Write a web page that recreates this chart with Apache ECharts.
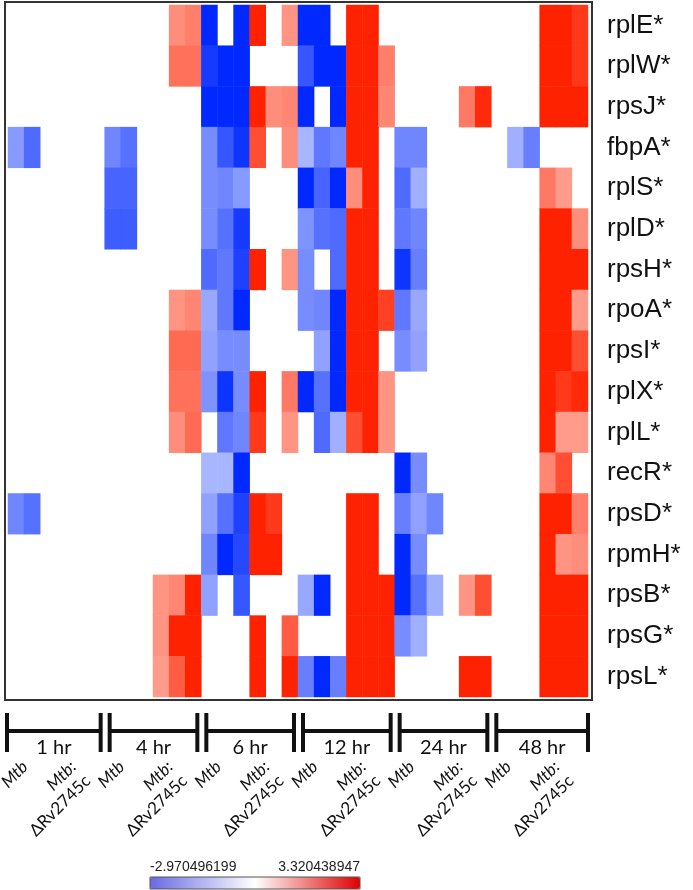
<!DOCTYPE html>
<html>
<head>
<meta charset="utf-8">
<script src="https://cdn.jsdelivr.net/npm/echarts@6/dist/echarts.min.js"></script>
<style>
  html, body { margin: 0; padding: 0; background: #fff; }
  #chart { width: 693px; height: 890px; }
</style>
</head>
<body>
<div id="chart"></div>
<script>
// blank cell (not significant)
var _ = null

var genes = ['rplE*', 'rplW*', 'rpsJ*', 'fbpA*', 'rplS*', 'rplD*', 'rpsH*', 'rpoA*', 'rpsI*',
  'rplX*', 'rplL*', 'recR*', 'rpsD*', 'rpmH*', 'rpsB*', 'rpsG*', 'rpsL*']
var timepoints = ['1 hr', '4 hr', '6 hr', '12 hr', '24 hr', '48 hr']
var strains = ['Mtb', 'Mtb:ΔRv2745c']
var replicates = 3
var scaleMin = -2.970496199
var scaleMax = 3.320438947

// one row per gene, 6 columns per time point (3 x Mtb, 3 x Mtb:ΔRv2745c)
var rplE = [_, _, _, _, _, _, _, _, _, _, 1.8, 2.0, -2.97, _, -2.97, 3.32, _, 1.7, -2.97, -2.97, _, 3.32, 3.32, _, _, _, _, _, _, _, _, _, _, 3.32, 3.32, 3.0]
var rplW = [_, _, _, _, _, _, _, _, _, _, 2.2, 2.2, -2.7, -2.97, -2.97, _, _, _, -2.3, -2.97, -2.97, 3.32, 3.32, 2.0, _, _, _, _, _, _, _, _, _, 3.32, 3.32, 3.0]
var rpsJ = [_, _, _, _, _, _, _, _, _, _, _, _, -2.97, -2.97, -2.97, 3.32, 1.8, 1.9, -2.97, _, -2.97, 3.32, 3.32, 1.9, _, _, _, _, 2.1, 3.2, _, _, _, 3.32, 3.32, 3.32]
var fbpA = [-1.3, -2.0, _, _, _, _, -1.6, -1.9, _, _, _, _, -1.5, -2.3, -2.8, 2.7, _, 1.8, -0.9, -1.8, -1.6, 3.32, 3.32, _, -1.6, -1.6, _, _, _, _, _, -1.0, -1.7, _, _, _]
var rplS = [_, _, _, _, _, _, -2.1, -2.1, _, _, _, _, -1.5, -1.6, -1.3, _, _, _, -2.97, -2.1, -2.97, 1.8, 3.32, _, -2.0, -1.0, _, _, _, _, _, _, _, 2.1, 1.6, _]
var rplD = [_, _, _, _, _, _, -2.2, -2.2, _, _, _, _, -1.5, -1.9, -2.7, _, _, _, -1.4, -1.9, -2.0, 3.32, 3.32, _, -1.8, -1.6, _, _, _, _, _, _, _, 3.32, 3.32, 1.8]
var rpsH = [_, _, _, _, _, _, _, _, _, _, _, _, -2.0, -1.8, -2.6, 3.32, _, 1.7, -1.5, _, -2.0, 3.32, 3.32, _, -2.8, -1.7, _, _, _, _, _, _, _, 3.32, 3.32, 3.32]
var rpoA = [_, _, _, _, _, _, _, _, _, _, 1.7, 1.9, -1.1, -1.8, -2.97, _, _, _, -1.5, -1.6, -2.97, 3.32, 3.32, 2.9, -1.8, -1.1, _, _, _, _, _, _, _, 3.32, 3.32, 1.6]
var rpsI = [_, _, _, _, _, _, _, _, _, _, 2.3, 2.3, -1.2, -1.5, -1.5, _, _, _, _, -1.2, -2.97, 3.32, 3.32, _, -1.5, -1.2, _, _, _, _, _, _, _, 3.32, 3.32, 2.7]
var rplX = [_, _, _, _, _, _, _, _, _, _, 2.2, 2.2, -1.4, -2.8, -1.5, 3.32, _, 2.1, -2.97, -1.9, -2.97, 3.32, 3.32, 1.7, _, _, _, _, _, _, _, _, _, 3.32, 3.0, 3.2]
var rplL = [_, _, _, _, _, _, _, _, _, _, 1.8, 2.3, _, -1.8, -1.6, 3.0, _, 1.7, _, -2.0, -1.0, 2.7, 3.32, 1.7, _, _, _, _, _, _, _, _, _, 3.32, 1.6, 1.6]
var recR = [_, _, _, _, _, _, _, _, _, _, _, _, -0.9, -0.9, -2.97, _, _, _, _, _, _, _, _, _, -2.97, -1.5, _, _, _, _, _, _, _, 1.9, 2.7, _]
var rpsD = [-1.6, -1.9, _, _, _, _, _, _, _, _, _, _, -1.2, -1.9, -2.6, 3.32, 3.0, _, _, _, _, 3.32, 3.32, _, -1.7, -1.2, -1.6, _, _, _, _, _, _, 3.32, 3.32, 2.0]
var rpmH = [_, _, _, _, _, _, _, _, _, _, _, _, -1.6, -2.97, -2.5, 3.32, 3.32, _, _, _, _, 3.32, 3.32, _, -2.97, -1.5, _, _, _, _, _, _, _, 3.32, 1.7, 1.8]
var rpsB = [_, _, _, _, _, _, _, _, _, 1.7, 1.9, 3.32, -1.2, _, -2.3, _, _, _, -1.1, -2.97, _, 3.32, 3.32, 3.32, -2.97, -1.9, -1.0, _, 1.7, 2.7, _, _, _, 3.32, 3.32, 3.32]
var rpsG = [_, _, _, _, _, _, _, _, _, 1.7, 3.32, 3.32, _, _, _, 3.32, _, 2.5, _, _, _, 3.32, 3.32, 3.32, -1.5, -1.0, _, _, _, _, _, _, _, 3.32, 3.32, 3.32]
var rpsL = [_, _, _, _, _, _, _, _, _, 1.6, 2.5, 3.32, _, _, _, 3.32, _, 3.32, -1.7, -2.97, -1.7, 3.32, 3.32, 3.32, _, _, _, _, 3.32, 3.32, _, _, _, 3.32, 3.32, 3.32]

var rows = [rplE, rplW, rpsJ, fbpA, rplS, rplD, rpsH, rpoA, rpsI, rplX, rplL, recR, rpsD, rpmH, rpsB, rpsG, rpsL]

var columns = []
timepoints.forEach(function (t) {
  strains.forEach(function (s) {
    for (var k = 1; k <= replicates; k++) columns.push(t + ' ' + s + ' ' + k)
  })
})

var cells = []
rows.forEach(function (row, r) {
  row.forEach(function (v, c) {
    if (v !== null) cells.push([c, r, v])
  })
})

var perGroup = strains.length * replicates

// one bottom axis per strain, each labelling the middle replicate of that strain
var strainLabels = ['{i|Mtb}\n{n| }', '{i|Mtb:}\n{n|ΔRv2745c}']
var labelRich = {
  i: { fontFamily: 'Lato', fontStyle: 'italic', fontSize: 17, lineHeight: 20, color: '#111' },
  n: { fontFamily: 'Lato', fontSize: 17, lineHeight: 20, color: '#111' }
}
var xAxes = strains.map(function (s, k) {
  return {
    type: 'category',
    data: columns,
    position: 'bottom',
    offset: 0,
    axisLine: { show: false },
    axisTick: { show: false },
    splitLine: { show: false },
    axisLabel: {
      interval: function (i) {
        return i % perGroup === k * replicates + 1
      },
      rotate: 45,
      margin: 74,
      formatter: function () {
        return strainLabels[k]
      },
      rich: labelRich
    }
  }
})

var myChart = echarts.init(document.getElementById('chart'))

var option = {
  backgroundColor: '#fff',
  animation: false,
  grid: {
    left: 8,
    top: 5,
    width: 580,
    height: 692,
    outerBoundsMode: 'none'
  },
  xAxis: xAxes,
  yAxis: {
    type: 'category',
    data: genes,
    inverse: true,
    position: 'right',
    axisLine: { show: false },
    axisTick: { show: false },
    splitLine: { show: false },
    axisLabel: {
      margin: 19,
      fontSize: 26,
      fontFamily: 'Liberation Sans',
      color: '#111'
    }
  },
  visualMap: {
    type: 'continuous',
    seriesIndex: 0,
    min: scaleMin,
    max: scaleMax,
    orient: 'horizontal',
    calculable: false,
    left: 150,
    top: 877,
    padding: 0,
    itemWidth: 12,
    itemHeight: 210,
    text: null,
    inRange: { color: ['#0028ff', '#ffffff', '#ff2200'] },
    controller: { inRange: { color: ['#6a6ae4', '#ffffff', '#e00000'] } }
  },
  series: [
    {
      type: 'heatmap',
      xAxisIndex: 0,
      data: cells,
      itemStyle: { borderWidth: 0 },
      emphasis: { disabled: true }
    }
  ]
}

myChart.setOption(option)

// frame, legend texts, time-point brackets
var grid = myChart.getModel().getComponent('grid').coordinateSystem.getRect()
var bw = grid.width / columns.length
var yb = grid.y + grid.height
var ink = '#111'
var bar = { stroke: ink, lineWidth: 4 }

var graphics = [
  {
    type: 'rect',
    shape: { x: grid.x - 3, y: grid.y - 3, width: grid.width + 7, height: grid.height + 6 },
    style: { fill: null, stroke: '#333', lineWidth: 2 },
    silent: true
  },
  {
    type: 'rect',
    shape: { x: 150, y: 877, width: 210, height: 12 },
    style: { fill: null, stroke: '#555', lineWidth: 1 },
    silent: true,
    z: 100
  },
  {
    type: 'text',
    style: {
      x: 150, y: 874, text: String(scaleMin), align: 'left', verticalAlign: 'bottom',
      font: '14px "Liberation Sans Narrow", "Liberation Sans"', fill: '#222'
    }
  },
  {
    type: 'text',
    style: {
      x: 360, y: 874, text: String(scaleMax), align: 'right', verticalAlign: 'bottom',
      font: '14px "Liberation Sans Narrow", "Liberation Sans"', fill: '#222'
    }
  }
]

timepoints.forEach(function (t, g) {
  var x0 = grid.x + g * perGroup * bw
  var x1 = x0 + perGroup * bw
  var left = g === 0 ? x0 - 1 : x0 + 5
  var right = g === timepoints.length - 1 ? x1 : x1 - 4
  graphics.push(
    { type: 'line', silent: true, shape: { x1: left, y1: yb + 34, x2: right, y2: yb + 34 }, style: bar },
    { type: 'line', silent: true, shape: { x1: left, y1: yb + 16, x2: left, y2: yb + 55 }, style: bar },
    { type: 'line', silent: true, shape: { x1: right, y1: yb + 16, x2: right, y2: yb + 55 }, style: bar },
    {
      type: 'text',
      silent: true,
      style: {
        x: (left + right) / 2, y: yb + 51, text: t, align: 'center', verticalAlign: 'middle',
        font: '20px Lato', fill: ink
      }
    }
  )
})

myChart.setOption({ graphic: graphics })
</script>
</body>
</html>
